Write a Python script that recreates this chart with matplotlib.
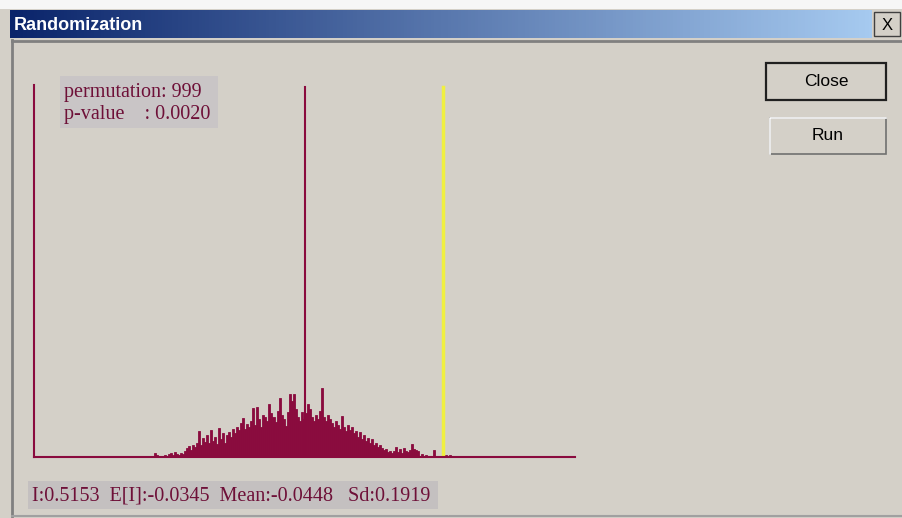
import numpy as np
import matplotlib
matplotlib.use("Agg")
import matplotlib.pyplot as plt
from matplotlib.patches import Rectangle

# --- data ---
permutations = 999
p_value = 0.0020
observed_I = 0.5153
expected_I = -0.0345
perm_mean = -0.0448
perm_sd = 0.1919

bin_start = -0.636
bin_width = 0.008
bin_counts = [
    4, 2, 0, 1, 0, 2, 1, 3, 4, 2, 5, 3, 2, 4, 3, 6, 9, 11, 7, 12,
    10, 14, 26, 12, 19, 15, 22, 14, 27, 16, 20, 13, 29, 18, 24, 14, 22, 25, 20, 28,
    24, 30, 27, 34, 39, 28, 33, 30, 36, 49, 32, 50, 38, 30, 42, 40, 36, 53, 44, 40,
    35, 46, 59, 42, 38, 31, 45, 63, 56, 63, 48, 40, 36, 45, 38, 44, 53, 48, 40, 36,
    42, 38, 46, 69, 40, 36, 42, 38, 34, 30, 36, 32, 28, 41, 30, 26, 32, 27, 30, 24,
    26, 20, 25, 18, 22, 16, 19, 14, 18, 12, 14, 10, 12, 9, 7, 8, 5, 6, 4, 6,
    10, 5, 8, 4, 9, 6, 5, 7, 13, 8, 7, 6, 0, 3, 0, 2, 0, 0, 1, 7,
    0, 0, 0, 0, 0, 2, 0, 2,
]

W, H = 902, 518
BG = "#d4d0c8"
MAROON = "#8a0b3e"
TEXT = "#6e1038"

fig = plt.figure(figsize=(W / 100, H / 100), dpi=100, facecolor=BG)

# pixel-space overlay for the dialog chrome
bg = fig.add_axes([0, 0, 1, 1])
bg.set_xlim(0, W)
bg.set_ylim(H, 0)
bg.axis("off")

bg.add_patch(Rectangle((0, 0), W, 9, color="#f6f6f6", lw=0))
grad = np.linspace(0, 1, 256).reshape(1, -1)
cmap = matplotlib.colors.LinearSegmentedColormap.from_list("tb", ["#0a246a", "#a6caf0"])
bg.imshow(grad, cmap=cmap, extent=(10, 872, 38, 10), aspect="auto")
bg.set_xlim(0, W)
bg.set_ylim(H, 0)
bg.text(14, 25, "Randomization", color="white", fontsize=13, fontweight="bold",
        family="Liberation Sans", va="center", ha="left")
# title close button
bg.add_patch(Rectangle((874, 12), 26, 24, facecolor=BG, edgecolor="#404040", lw=1))
bg.text(887, 25, "X", fontsize=12, family="Liberation Sans", va="center", ha="center")
# window frame
bg.plot([12, 12], [40, 516], color="#808080", lw=2)
bg.plot([12, W], [41, 41], color="#808080", lw=2)
bg.plot([12, W], [516, 516], color="#a0a0a0", lw=1.5)

# buttons
bg.add_patch(Rectangle((766, 63), 120, 37, facecolor=BG, edgecolor="#202020", lw=1.6))
bg.text(826, 81, "Close", fontsize=12.5, family="Liberation Sans", va="center", ha="center")
bg.add_patch(Rectangle((770, 118), 116, 36, facecolor=BG, edgecolor="#707070", lw=1.2))
bg.plot([770, 770, 886], [154, 118, 118], color="white", lw=1.2)
bg.text(828, 136, "Run", fontsize=12.5, family="Liberation Sans", va="center", ha="center")

# statistics boxes
bg.add_patch(Rectangle((60, 76), 158, 52, facecolor="#c9c5c6", lw=0))
bg.text(64, 92, f"permutation: {permutations}", fontsize=14.5, color=TEXT,
        family="Liberation Serif", va="center")
bg.text(64, 115, f"p-value    : {p_value:.4f}", fontsize=14.5, color=TEXT,
        family="Liberation Serif", va="center")
bg.add_patch(Rectangle((28, 481), 410, 28, facecolor="#c4c0c0", lw=0))
bg.text(32, 496, f"I:{observed_I:.4f}  E[I]:{expected_I:.4f}  Mean:{perm_mean:.4f}   Sd:{perm_sd:.4f}",
        fontsize=14.5, color=TEXT, family="Liberation Serif", va="center")

# histogram axes (pixel box 34..575 x 85..457)
ax = fig.add_axes([34 / W, 1 - 457 / H, (575 - 34) / W, (457 - 85) / H])
ax.patch.set_alpha(0)
edges = bin_start + bin_width * np.arange(len(bin_counts))
ax.bar(edges, bin_counts, width=bin_width, align="edge", color=MAROON,
       edgecolor=MAROON, lw=0.6)
ax.set_xlim(-1.114, 1.041)
ax.set_ylim(0, 372)
ax.axvline(expected_I, ymax=370 / 372, color=MAROON, lw=1.5)
ax.axvline(observed_I, ymin=2 / 372, ymax=370 / 372, color="#f0f040", lw=2.5)
for s in ["top", "right"]:
    ax.spines[s].set_visible(False)
for s in ["left", "bottom"]:
    ax.spines[s].set_color(MAROON)
    ax.spines[s].set_linewidth(1.5)
ax.set_xticks([])
ax.set_yticks([])

fig.savefig("out.png", dpi=100, facecolor=BG)
